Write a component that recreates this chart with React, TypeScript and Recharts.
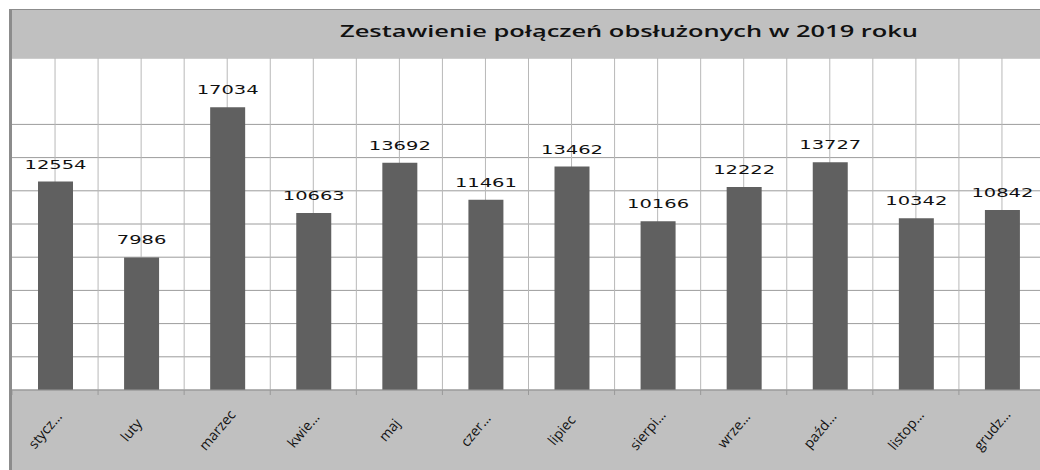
import React from "react";
import { BarChart, Bar, XAxis, YAxis, CartesianGrid, LabelList } from "recharts";

const months = ["stycz…", "luty", "marzec", "kwie…", "maj", "czer…", "lipiec", "sierpi…", "wrze…", "paźd…", "listop…", "grudz…"];
const calls = [12554, 7986, 17034, 10663, 13692, 11461, 13462, 10166, 12222, 13727, 10342, 10842];
// the 18000 line is missing in the original
const yTicks = [0, 2000, 4000, 6000, 8000, 10000, 12000, 14000, 16000, 20000];

const data = months.map((month, i) => ({ month, calls: calls[i] }));

const CHART_W = 1033;
const BAND = CHART_W / months.length;

// label is rotated around its own middle, so it stays in place even if the rotation is dropped
const renderMonthTick = (props: any) => {
  const x = Number(props.x);
  const y = Number(props.y);
  const cx = x - 10;
  const cy = y + 40;
  return (
    <g key={props.index}>
      <line x1={x - BAND / 2} x2={x - BAND / 2} y1={y} y2={y + 5} stroke="#999" />
      <text
        x={cx}
        y={cy + 5}
        transform={`rotate(-50, ${cx}, ${cy})`}
        textAnchor="middle"
        fontSize={14}
        fontFamily="Open Sans"
        fill="#111"
      >
        {props.payload.value}
      </text>
    </g>
  );
};

const ValueLabel = (props: any) => {
  const { x, y, width, value } = props;
  const s = String(value);
  return (
    <text
      x={x + width / 2}
      y={y - 13}
      textAnchor="middle"
      fontSize={13}
      fontFamily="DejaVu Sans"
      fill="#111"
      textLength={s.length * 12.4}
      lengthAdjust="spacingAndGlyphs"
    >
      {s}
    </text>
  );
};

export default function App() {
  return (
    <div style={{ position: "absolute", left: 0, top: 0, width: 1040, height: 470, overflow: "hidden", background: "#fff" }}>
      <div
        style={{
          position: "absolute",
          left: 9,
          top: 9,
          width: 1060,
          height: 470,
          background: "#c0c0c0",
          borderLeft: "3px solid #8c8c8c",
          borderTop: "1px solid #8c8c8c",
        }}
      />
      <svg style={{ position: "absolute", left: 0, top: 0 }} width={1040} height={58}>
        <text
          x={340}
          y={37}
          fontSize={15.5}
          fontWeight={600}
          fontFamily="Open Sans"
          fill="#111"
          textLength={578}
          lengthAdjust="spacingAndGlyphs"
        >
          Zestawienie połączeń obsłużonych w 2019 roku
        </text>
      </svg>
      <div style={{ position: "absolute", left: 12, top: 58 }}>
        <BarChart width={CHART_W} height={412} data={data} margin={{ top: 0, right: 0, bottom: 0, left: 0 }}>
          <CartesianGrid fill="#fff" fillOpacity={1} stroke="#9c9c9c" vertical={false} />
          <CartesianGrid
            stroke="#b8b8b8"
            horizontal={false}
            verticalCoordinatesGenerator={({ offset }: any) =>
              Array.from({ length: 24 }, (_, i) => offset.left + ((i + 1) * offset.width) / 24)
            }
          />
          <XAxis
            dataKey="month"
            height={80}
            interval={0}
            tickLine={false}
            tickSize={0}
            tickMargin={0}
            axisLine={{ stroke: "#999" }}
            tick={renderMonthTick}
          />
          <YAxis hide domain={[0, 20000]} ticks={yTicks} />
          <Bar dataKey="calls" fill="#606060" barSize={35} isAnimationActive={false}>
            <LabelList dataKey="calls" content={<ValueLabel />} />
          </Bar>
        </BarChart>
      </div>
    </div>
  );
}
